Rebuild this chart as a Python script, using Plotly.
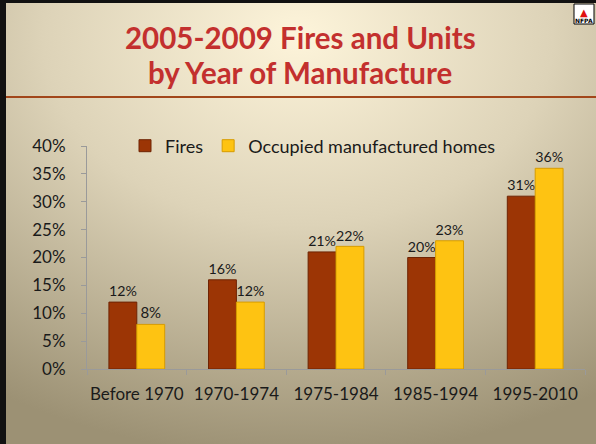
import base64
import plotly.graph_objects as go

categories = ["Before 1970", "1970-1974", "1975-1984", "1985-1994", "1995-2010"]
fires = [0.12, 0.16, 0.21, 0.20, 0.31]
homes = [0.08, 0.12, 0.22, 0.23, 0.36]
fires_labels = ["12%", "16%", "21%", "20%", "31%"]
homes_labels = ["8%", "12%", "22%", "23%", "36%"]
ytick_vals = [0, 0.05, 0.10, 0.15, 0.20, 0.25, 0.30, 0.35, 0.40]
ytick_text = ["0%", "5%", "10%", "15%", "20%", "25%", "30%", "35%", "40%"]

W, H = 596, 444
ML, MR, MT, MB = 87, 11, 146, 75
PW, PH = W - ML - MR, H - MT - MB
FONT = "Lato"


def px(x):
    return (x - ML) / PW


def py(y):
    return (H - MB - y) / PH


svg = f'''<svg xmlns="http://www.w3.org/2000/svg" width="{W}" height="{H}" viewBox="0 0 {W} {H}" preserveAspectRatio="none">
<defs><radialGradient id="g" cx="50%" cy="8%" r="95%" fx="50%" fy="8%">
<stop offset="0" stop-color="#fdf4da"/>
<stop offset="0.45" stop-color="#ddd3b8"/>
<stop offset="1" stop-color="#9c9174"/>
</radialGradient></defs>
<rect width="{W}" height="{H}" fill="url(#g)"/></svg>'''
bg_uri = "data:image/svg+xml;base64," + base64.b64encode(svg.encode()).decode()

fig = go.Figure()
fig.add_trace(go.Bar(
    x=categories, y=fires, name="Fires", text=fires_labels,
    textposition="outside", cliponaxis=False,
    textfont=dict(family=FONT, size=15, color="#1a1a1a"),
    marker=dict(color="#9c3505", line=dict(color="#6e2404", width=1)),
))
fig.add_trace(go.Bar(
    x=categories, y=homes, name="Occupied manufactured homes", text=homes_labels,
    textposition="outside", cliponaxis=False,
    textfont=dict(family=FONT, size=15, color="#1a1a1a"),
    marker=dict(color="#fec312", line=dict(color="#d79c00", width=1)),
))

fig.update_layout(
    width=W, height=H,
    margin=dict(l=ML, r=MR, t=MT, b=MB, autoexpand=False),
    paper_bgcolor="#d8ceb3",
    plot_bgcolor="rgba(0,0,0,0)",
    barmode="group", bargap=0.44, bargroupgap=0,
    font=dict(family=FONT, color="#1a1a1a"),
    showlegend=True,
    legend=dict(orientation="h", x=px(125), xanchor="left", y=py(146), yanchor="middle",
                bgcolor="rgba(0,0,0,0)", font=dict(family=FONT, size=18, color="#1a1a1a"),
                itemwidth=30, traceorder="normal"),
    xaxis=dict(showline=True, linecolor="#9a9a9a", linewidth=1,
               ticks="outside", tickson="boundaries", ticklen=5, tickcolor="#9a9a9a",
               ticklabelstandoff=10, tickangle=0, automargin=False,
               tickfont=dict(family=FONT, size=17, color="#1a1a1a"), showgrid=False),
    yaxis=dict(range=[0, 0.4], tickvals=ytick_vals, ticktext=ytick_text,
               showline=True, linecolor="#9a9a9a", linewidth=1,
               ticks="outside", ticklen=5, tickcolor="#9a9a9a",
               ticklabelstandoff=12, automargin=False,
               tickfont=dict(family=FONT, size=17, color="#1a1a1a"),
               showgrid=False, zeroline=False),
    images=[dict(source=bg_uri, xref="paper", yref="paper", x=px(0), y=py(0),
                 sizex=W / PW, sizey=H / PH, xanchor="left", yanchor="top",
                 sizing="stretch", layer="below")],
    shapes=[
        dict(type="rect", xref="paper", yref="paper",
             x0=px(0), x1=px(6), y0=py(H), y1=py(0),
             fillcolor="#111111", line=dict(width=0)),
        dict(type="rect", xref="paper", yref="paper",
             x0=px(0), x1=px(W), y0=py(3), y1=py(0),
             fillcolor="#111111", line=dict(width=0)),
        dict(type="line", xref="paper", yref="paper",
             x0=px(6), x1=px(W), y0=py(97), y1=py(97),
             line=dict(color="#a2461a", width=2)),
        dict(type="rect", xref="paper", yref="paper",
             x0=px(574), x1=px(594), y0=py(24), y1=py(4),
             fillcolor="#ffffff", line=dict(color="#000000", width=1)),
    ],
    annotations=[
        dict(text="<b>2005-2009 Fires and Units</b>",
             xref="paper", yref="paper", x=px(300), y=py(38),
             xanchor="center", yanchor="middle", showarrow=False,
             font=dict(family=FONT, size=29.5, color="#c3302e")),
        dict(text="<b>by Year of Manufacture</b>",
             xref="paper", yref="paper", x=px(300), y=py(73),
             xanchor="center", yanchor="middle", showarrow=False,
             font=dict(family=FONT, size=29.5, color="#c3302e")),
        dict(text="▲", xref="paper", yref="paper",
             x=px(584), y=py(12), xanchor="center", yanchor="middle",
             showarrow=False, font=dict(family="DejaVu Sans", size=10, color="#e01010")),
        dict(text="<b>NFPA</b>", xref="paper", yref="paper",
             x=px(584), y=py(21), xanchor="center", yanchor="middle",
             showarrow=False, font=dict(family="DejaVu Sans", size=6, color="#000000")),
    ],
)

fig.write_html("out.html", config={"displayModeBar": False},
               post_script="document.body.style.margin='0';document.body.style.overflow='hidden';")
